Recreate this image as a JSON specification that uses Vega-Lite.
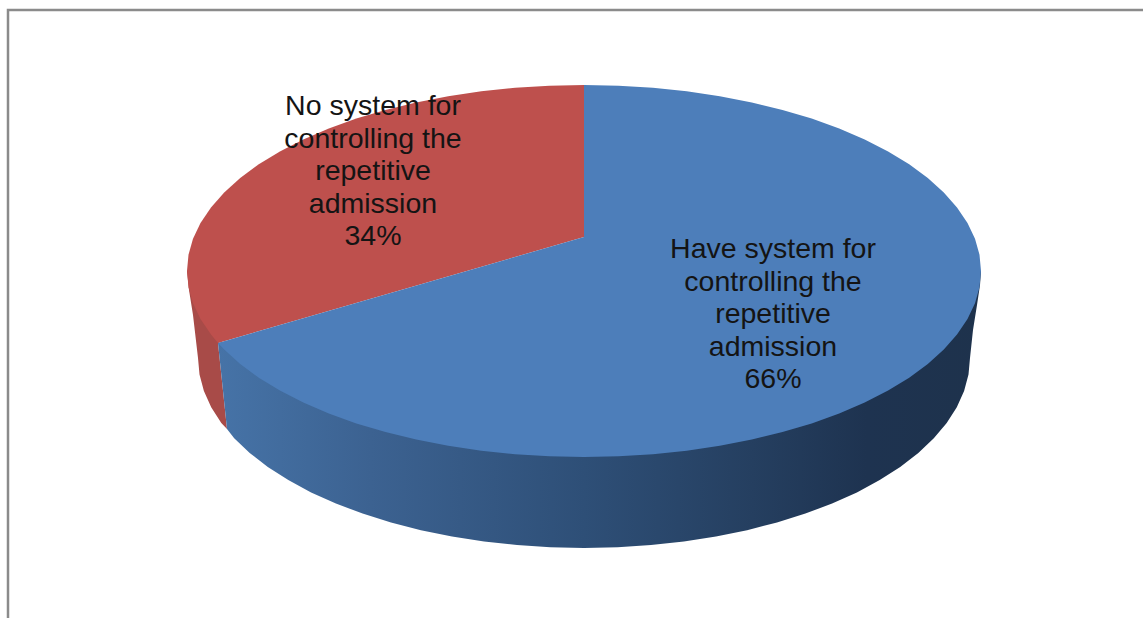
{
"$schema":"https://vega.github.io/schema/vega-lite/v6.json",
"width":1143,"height":618,
"autosize":{"type":"fit","contains":"padding"},
"padding":0,
"background":"#ffffff",
"view":{"stroke":null},
"datasets":{
"labels":[
{"label":"Have system for\ncontrolling the\nrepetitive\nadmission\n66%","share":66,"x":773,"y":258},
{"label":"No system for\ncontrolling the\nrepetitive\nadmission\n34%","share":34,"x":373,"y":115}
],
"frame":[{"x":8,"y":618},{"x":8,"y":10},{"x":1143,"y":10}],
"sideRed":[
{"x":187,"y":271},{"x":189,"y":290},{"x":193,"y":315},{"x":198,"y":358},{"x":199.5,"y":374.6},{"x":203.9,"y":391},{"x":211.2,"y":407.2},{"x":221.3,"y":423},{"x":227,"y":429},{"x":218,"y":343},{"x":300,"y":271}
],
"sideBlue":[
{"x":218,"y":343},{"x":227,"y":429},{"x":234.2,"y":438.3},{"x":249.7,"y":453},{"x":267.8,"y":467},{"x":288.3,"y":480.1},{"x":311.1,"y":492.4},{"x":335.9,"y":503.5},{"x":362.6,"y":513.6},{"x":391,"y":522.5},{"x":420.9,"y":530.2},{"x":452,"y":536.5},{"x":484.1,"y":541.5},{"x":517,"y":545.1},{"x":550.3,"y":547.3},{"x":584,"y":548},{"x":617.7,"y":547.3},{"x":651,"y":545.1},{"x":683.9,"y":541.5},{"x":716,"y":536.5},{"x":747.1,"y":530.2},{"x":777,"y":522.5},{"x":805.4,"y":513.6},{"x":832.1,"y":503.5},{"x":856.9,"y":492.4},{"x":879.7,"y":480.1},{"x":900.2,"y":467},{"x":918.3,"y":453},{"x":933.8,"y":438.3},{"x":946.7,"y":423},{"x":956.8,"y":407.2},{"x":964.1,"y":391},{"x":968.5,"y":374.6},{"x":970,"y":358},{"x":973,"y":330},{"x":977,"y":305},{"x":980,"y":285},{"x":981,"y":271},{"x":584,"y":271}
],
"topRed":[
{"x":584,"y":237},{"x":218,"y":343},{"x":211,"y":334.6},{"x":200.5,"y":319.1},{"x":193,"y":303.3},{"x":188.5,"y":287.2},{"x":187,"y":271},{"x":188.5,"y":254.8},{"x":193,"y":238.7},{"x":200.5,"y":222.9},{"x":211,"y":207.4},{"x":224.2,"y":192.4},{"x":240.2,"y":178},{"x":258.8,"y":164.3},{"x":279.9,"y":151.4},{"x":303.3,"y":139.5},{"x":328.8,"y":128.5},{"x":356.3,"y":118.6},{"x":385.5,"y":109.9},{"x":416.2,"y":102.4},{"x":448.2,"y":96.2},{"x":481.3,"y":91.3},{"x":515.1,"y":87.8},{"x":549.4,"y":85.7},{"x":584,"y":85}
],
"topBlue":[
{"x":584,"y":237},{"x":584,"y":85},{"x":618.6,"y":85.7},{"x":652.9,"y":87.8},{"x":686.7,"y":91.3},{"x":719.8,"y":96.2},{"x":751.8,"y":102.4},{"x":782.5,"y":109.9},{"x":811.7,"y":118.6},{"x":839.2,"y":128.5},{"x":864.7,"y":139.5},{"x":888.1,"y":151.4},{"x":909.2,"y":164.3},{"x":927.8,"y":178},{"x":943.8,"y":192.4},{"x":957,"y":207.4},{"x":967.5,"y":222.9},{"x":975,"y":238.7},{"x":979.5,"y":254.8},{"x":981,"y":271},{"x":979.5,"y":287.2},{"x":975,"y":303.3},{"x":967.5,"y":319.1},{"x":957,"y":334.6},{"x":943.8,"y":349.6},{"x":927.8,"y":364},{"x":909.2,"y":377.7},{"x":888.1,"y":390.6},{"x":864.7,"y":402.5},{"x":839.2,"y":413.5},{"x":811.7,"y":423.4},{"x":782.5,"y":432.1},{"x":751.8,"y":439.6},{"x":719.8,"y":445.8},{"x":686.7,"y":450.7},{"x":652.9,"y":454.2},{"x":618.6,"y":456.3},{"x":584,"y":457},{"x":549.4,"y":456.3},{"x":515.1,"y":454.2},{"x":481.3,"y":450.7},{"x":448.2,"y":445.8},{"x":416.2,"y":439.6},{"x":385.5,"y":432.1},{"x":356.3,"y":423.4},{"x":328.8,"y":413.5},{"x":303.3,"y":402.5},{"x":279.9,"y":390.6},{"x":258.8,"y":377.7},{"x":240.2,"y":364},{"x":224.2,"y":349.6},{"x":218,"y":343}
]
},
"encoding":{
"x":{"field":"x","type":"quantitative","scale":{"domain":[0,1143],"nice":false,"zero":false},"axis":null},
"y":{"field":"y","type":"quantitative","scale":{"domain":[618,0],"nice":false,"zero":false},"axis":null}
},
"layer":[
{"data":{"name":"frame"},
 "mark":{"type":"line","stroke":"#8b8b8b","strokeWidth":2.5,"strokeJoin":"miter","clip":true},
 "encoding":{"order":{"value":null}}},
{"data":{"name":"sideRed"},
 "mark":{"type":"line","filled":true,"fill":"#a84b48","stroke":null},
 "encoding":{"order":{"value":null}}},
{"data":{"name":"sideBlue"},
 "mark":{"type":"line","filled":true,"stroke":null,
  "fill":{"gradient":"linear","x1":0,"y1":0,"x2":1,"y2":0,
   "stops":[{"offset":0,"color":"#4673a7"},{"offset":0.2,"color":"#3c6291"},{"offset":0.48,"color":"#2e4f77"},{"offset":0.7,"color":"#253f60"},{"offset":0.85,"color":"#1e3350"},{"offset":1,"color":"#1e324c"}]}},
 "encoding":{"order":{"value":null}}},
{"data":{"name":"topRed"},
 "mark":{"type":"line","filled":true,"fill":"#be504d","stroke":null},
 "encoding":{"order":{"value":null}}},
{"data":{"name":"topBlue"},
 "mark":{"type":"line","filled":true,"fill":"#4d7eba","stroke":null},
 "encoding":{"order":{"value":null}}},
{"data":{"name":"labels"},
 "mark":{"type":"text","font":"Liberation Sans","fontSize":28.5,"lineHeight":32.5,"lineBreak":"\n","align":"center","baseline":"alphabetic","color":"#141414"},
 "encoding":{"text":{"field":"label","type":"nominal"}}}
]
}
